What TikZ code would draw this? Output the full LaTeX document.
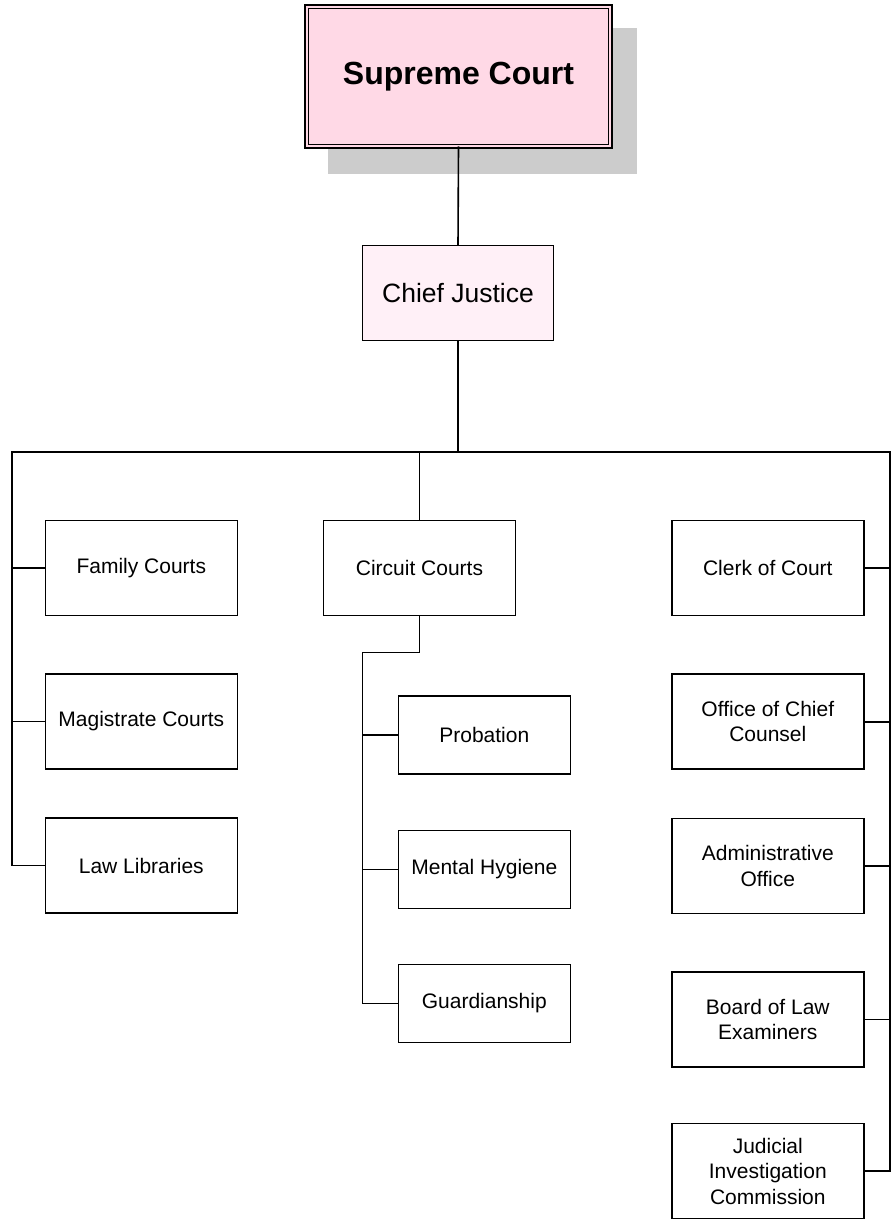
\documentclass[tikz,border=0pt]{standalone}
\usepackage{fontspec}
\setmainfont{Liberation Sans}
\usepackage{tikz}
\usetikzlibrary{backgrounds}

\definecolor{courtpink}{RGB}{255,217,230}
\definecolor{justicepink}{RGB}{255,240,247}
\definecolor{shadowgray}{RGB}{204,204,204}

\begin{document}
\begin{tikzpicture}[x=1pt, y=-1pt,
    unit/.style={draw, line width=1.5pt, inner sep=0pt, outer sep=0pt, align=center,
      minimum width=192pt, minimum height=95pt, font=\fontsize{21}{25.5}\selectfont},
    subunit/.style={unit, minimum width=172pt, minimum height=78pt},
    link/.style={draw, line width=1.6pt},
    bus/.style={draw, line width=2.6pt, line cap=rect}]
    \useasboundingbox (0,0) rectangle (891,1220);

    \node[draw, fill=courtpink, double=courtpink, double distance=2pt, line width=1.6pt,
      inner sep=0pt, outer sep=0pt, minimum width=303.8pt, minimum height=139.8pt,
      font=\fontsize{32}{38}\selectfont\bfseries] (supreme) at (458.5,76.5) {Supreme Court};
    \begin{scope}[on background layer]
      \fill[shadowgray] ([shift={(21.4,21.4)}]supreme.north west) rectangle ([shift={(26.6,27.6)}]supreme.south east);
    \end{scope}
    \node[unit, fill=justicepink, minimum width=191pt, font=\fontsize{26.5}{32}\selectfont] (chief) at (458,293) {Chief Justice};

    \node[unit] (family) at (141.3,568) {Family Courts};
    \node[unit] (magistrate) at (141.3,721.5) {Magistrate Courts};
    \node[unit] (library) at (141.3,865.5) {Law Libraries};

    \node[unit] (circuit) at (419.5,568) {Circuit Courts};
    \node[subunit] (probation) at (484.3,735) {Probation};
    \node[subunit] (mental) at (484.3,869.5) {Mental Hygiene};
    \node[subunit] (guard) at (484.3,1003.4) {Guardianship};

    \node[unit] (clerk) at (767.8,568) {Clerk of Court};
    \node[unit] (counsel) at (767.8,721.7) {Office of Chief\\Counsel};
    \node[unit] (admin) at (767.8,865.8) {Administrative\\Office};
    \node[unit] (board) at (767.8,1019.5) {Board of Law\\Examiners};
    \node[unit] (judicial) at (767.8,1171) {Judicial\\Investigation\\Commission};

    \coordinate (busl) at (12,452);
    \coordinate (busr) at (890,452);
    \coordinate (elbow) at (362.5,652.5);

    % top of the tree
    \draw[link] (supreme.south) -- (chief.north);
    \draw[link] (chief.south) -- (chief.south |- busl);
    \draw[bus] (busl) -- (busr);

    % left column
    \draw[link] (busl) |- (library.west);
    \draw[link] (family.west) -- (family.west -| busl);
    \draw[link] (magistrate.west) -- (magistrate.west -| busl);

    % circuit courts and their offices
    \draw[link] (circuit.north) -- (circuit.north |- busl);
    \draw[link] (circuit.south) |- (elbow) |- (guard.west);
    \draw[link] (probation.west) -- (probation.west -| elbow);
    \draw[link] (mental.west) -- (mental.west -| elbow);

    % right column
    \draw[link] (busr) |- (judicial.east);
    \foreach \n in {clerk,counsel,admin,board}
      \draw[link] (\n.east) -- (\n.east -| busr);
  \end{tikzpicture}
\end{document}
